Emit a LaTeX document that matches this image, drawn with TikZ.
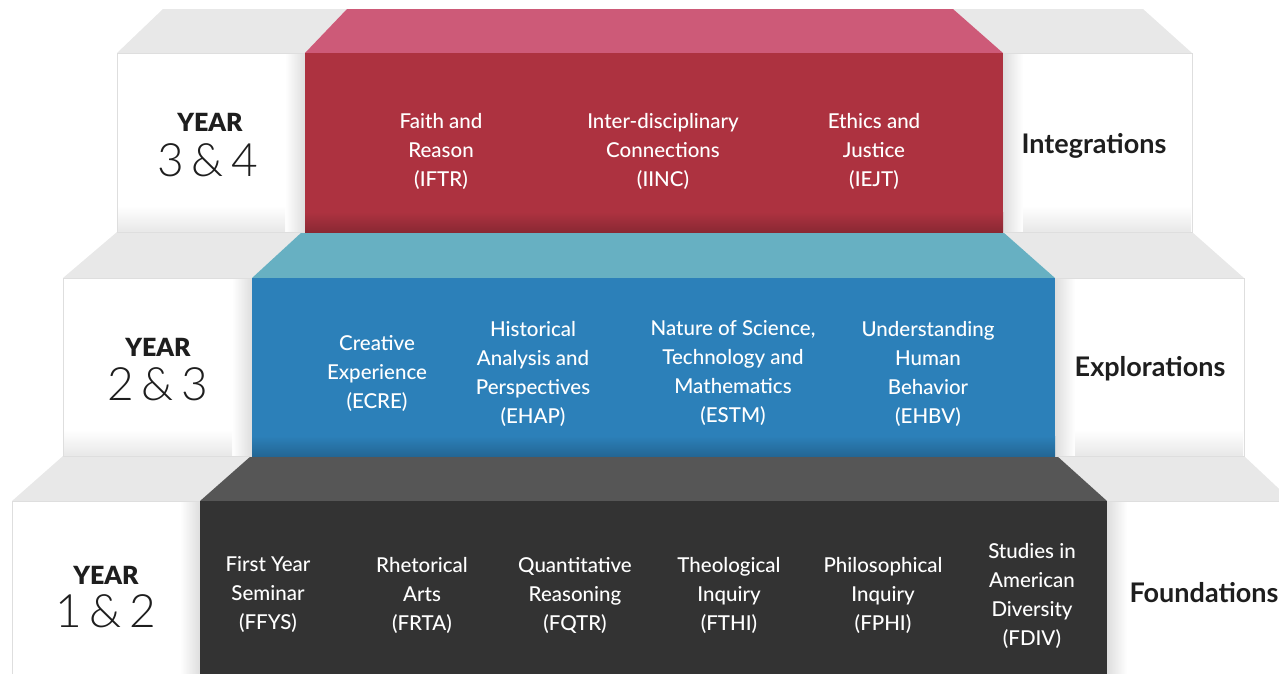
\documentclass[tikz,border=0pt]{standalone}
\usepackage{fontspec}
\setmainfont{Lato}
\newfontfamily\lightfont{Lato Light}
\newfontfamily\medfont{Lato Medium}
\newfontfamily\heavyfont{Lato Black}
\definecolor{redfront}{RGB}{173,50,64}
\definecolor{redtop}{RGB}{205,90,120}
\definecolor{bluefront}{RGB}{44,128,185}
\definecolor{tealtop}{RGB}{103,176,194}
\definecolor{darkfront}{RGB}{51,51,51}
\definecolor{darktop}{RGB}{86,86,86}
\definecolor{graytop}{RGB}{232,232,232}
\definecolor{boxedge}{RGB}{222,222,222}
\definecolor{ink}{RGB}{30,30,30}
\tikzset{
  whitebox/.style={fill=white, draw=boxedge, line width=0.8pt},
  course/.style={text=white, align=center, font=\medfont\fontsize{20.5}{29}\selectfont, inner sep=0pt},
  yearword/.style={text=ink, font=\heavyfont\fontsize{25}{25}\selectfont, inner sep=0pt},
  yearnum/.style={text=ink, font=\lightfont\fontsize{46}{46}\selectfont, inner sep=0pt},
  tiername/.style={text=ink, font=\bfseries\fontsize{27}{27}\selectfont, inner sep=0pt}
}
\begin{document}
\begin{tikzpicture}[x=1pt,y=-1pt]
\useasboundingbox (0,0) rectangle (1279,673);
% ===== bottom tier =====
\fill[graytop] (63,456) -- (251,456) -- (200,501) -- (12,501) -- cycle;
\fill[graytop] (1057,456) -- (1244,456) -- (1292,501) -- (1107,501) -- cycle;
\fill[darktop] (251,456) -- (1057,456) -- (1107,501) -- (200,501) -- cycle;
\draw[whitebox] (12,501) rectangle (200,680);
\shade[left color=white, right color=black!13] (180,502) rectangle (200,680);
\draw[whitebox] (1107,501) rectangle (1290,680);
\shade[left color=black!13, right color=white] (1107,502) rectangle (1127,680);
\fill[darkfront] (200,501) rectangle (1107,680);
% ===== middle tier =====
\fill[graytop] (117,232) -- (302,232) -- (252,278) -- (63,278) -- cycle;
\fill[graytop] (1003,232) -- (1192,232) -- (1244,278) -- (1055,278) -- cycle;
\fill[tealtop] (302,232) -- (1003,232) -- (1055,278) -- (252,278) -- cycle;
\draw[whitebox] (63,278) rectangle (252,456);
\shade[left color=white, right color=black!13] (232,279) rectangle (252,455.5);
\shade[top color=white, bottom color=black!9] (64,430) rectangle (232,455.5);
\draw[whitebox] (1055,278) rectangle (1244,456);
\shade[left color=black!13, right color=white] (1055,279) rectangle (1075,455.5);
\shade[top color=white, bottom color=black!9] (1075,430) rectangle (1243,455.5);
\fill[bluefront] (252,278) rectangle (1055,456);
\shade[top color=bluefront, bottom color=bluefront!80!black] (252,436) rectangle (1055,456);
% ===== top tier =====
\fill[graytop] (163,9) -- (347,9) -- (305,53) -- (117,53) -- cycle;
\fill[graytop] (953,9) -- (1143,9) -- (1192,53) -- (1003,53) -- cycle;
\fill[redtop] (347,9) -- (953,9) -- (1003,53) -- (305,53) -- cycle;
\draw[whitebox] (117,53) rectangle (305,232);
\shade[left color=white, right color=black!13] (285,54) rectangle (305,231.5);
\shade[top color=white, bottom color=black!9] (118,206) rectangle (285,231.5);
\draw[whitebox] (1003,53) rectangle (1192,232);
\shade[left color=black!13, right color=white] (1003,54) rectangle (1023,231.5);
\shade[top color=white, bottom color=black!9] (1023,206) rectangle (1191,231.5);
\fill[redfront] (305,53) rectangle (1003,232);
\shade[top color=redfront, bottom color=redfront!80!black] (305,212) rectangle (1003,232);
% ===== year labels =====
\node[yearword] (y34w) at (210,122) {YEAR};
\node[yearnum]  (y34n) at (208,160) {3\,\&\,4};
\node[yearword] (y23w) at (158,347) {YEAR};
\node[yearnum]  (y23n) at (158,384) {2\,\&\,3};
\node[yearword] (y12w) at (106,575) {YEAR};
\node[yearnum]  (y12n) at (106,611) {1\,\&\,2};
% ===== tier names =====
\node[tiername] (integ) at (1094,146) {Integrations};
\node[tiername] (explo) at (1150,369) {Explorations};
\node[tiername] (found) at (1204,593) {Foundations};
% ===== integrations courses =====
\node[course] (iftr) at (441,151) {Faith and\\Reason\\(IFTR)};
\node[course] (iinc) at (663,151) {Inter-disciplinary\\Connections\\(IINC)};
\node[course] (iejt) at (874,151) {Ethics and\\Justice\\(IEJT)};
% ===== explorations courses =====
\node[course] (ecre) at (377,373) {Creative\\Experience\\(ECRE)};
\node[course] (ehap) at (533,373.5) {Historical\\Analysis and\\Perspectives\\(EHAP)};
\node[course] (estm) at (733,373.5) {Nature of Science,\\Technology and\\Mathematics\\(ESTM)};
\node[course] (ehbv) at (928,373.5) {Understanding\\Human\\Behavior\\(EHBV)};
% ===== foundations courses =====
\node[course] (ffys) at (268,595) {First Year\\Seminar\\(FFYS)};
\node[course] (frta) at (422,595) {Rhetorical\\Arts\\(FRTA)};
\node[course] (fqtr) at (575,595) {Quantitative\\Reasoning\\(FQTR)};
\node[course] (fthi) at (729,595) {Theological\\Inquiry\\(FTHI)};
\node[course] (fphi) at (883,595) {Philosophical\\Inquiry\\(FPHI)};
\node[course] (fdiv) at (1032,596) {Studies in\\American\\Diversity\\(FDIV)};
\end{tikzpicture}
\end{document}
